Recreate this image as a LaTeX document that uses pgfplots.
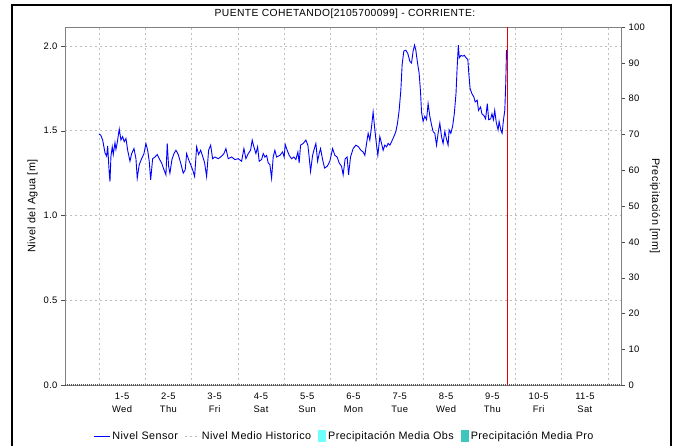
\documentclass[border=0pt]{standalone}
\usepackage{fontspec}
\setmainfont{Liberation Sans}[LetterSpace=4]
\usepackage{pgfplots}
\pgfplotsset{compat=1.18}
\definecolor{axgray}{RGB}{128,128,128}
\definecolor{gridgray}{RGB}{190,190,190}
\definecolor{obscol}{RGB}{110,255,255}
\definecolor{procol}{RGB}{64,196,190}
\definecolor{vred}{RGB}{230,0,0}
\pgfplotsset{
  boxleg/.style={legend image code/.code={\fill[##1] (0pt,-6pt) rectangle (8pt,6pt);}},
  dotleg/.style={legend image code/.code={\draw[##1] (0pt,0pt) -- (14pt,0pt);}},
  lineleg/.style={legend image code/.code={\draw[##1] (0pt,0pt) -- (16pt,0pt);}},
}
\begin{document}
\begin{tikzpicture}[x=1pt,y=1pt]
\useasboundingbox (0,0) rectangle (683,445);
\fill[white] (0,0) rectangle (683,445);
\draw[line width=2pt] (12,-20) -- (12,440) -- (671,440) -- (671,-20);
\node[font=\fontsize{10.3}{12}\selectfont] at (345,431) {PUENTE COHETANDO[2105700099] - CORRIENTE:};
\node[rotate=90,font=\fontsize{10.8}{12}\selectfont] at (32.5,239) {Nivel del Agua [m]};
\node[rotate=-90,font=\fontsize{10.8}{12}\selectfont] at (655,239) {Precipitación [mm]};
\begin{axis}[
  at={(65pt,60pt)}, anchor=south west,
  width=556pt, height=358pt, scale only axis,
  xmin=-0.734, xmax=11.28, ymin=0, ymax=2.112,
  axis line style={axgray},
  xtick={0.5,1.5,...,10.5},
  xticklabels={{1-5\\Wed},{2-5\\Thu},{3-5\\Fri},{4-5\\Sat},{5-5\\Sun},{6-5\\Mon},{7-5\\Tue},{8-5\\Wed},{9-5\\Thu},{10-5\\Fri},{11-5\\Sat}},
  xticklabel style={align=center, font=\fontsize{9.4}{13}\selectfont},
  minor xtick={0,1,...,11},
  xmajorgrids=false, xminorgrids=true,
  major x tick style={draw=none}, minor x tick style={draw=none},
  ytick={0,0.5,1,1.5,2},
  yticklabels={0.0,0.5,1.0,1.5,2.0},
  yticklabel style={font=\fontsize{9.4}{11}\selectfont},
  ymajorgrids=true,
  ytick pos=left,
  tick align=outside, major tick length=4pt,
  major y tick style={axgray!60!black},
  grid style={gridgray, dash pattern=on 2pt off 3pt, line width=0.6pt},
  minor grid style={gridgray, dash pattern=on 2pt off 3pt, line width=0.6pt},
  legend columns=4,
  legend cell align=left,
  legend style={draw=none, fill=none, at={(0.5027,-0.1425)}, anchor=center,
    font=\fontsize{10.8}{12}\selectfont, inner sep=0pt,
    /tikz/every even column/.append style={column sep=5pt}},
]
\addplot[lineleg, blue, line width=0.9pt] coordinates {
(0.00,1.48)(0.037,1.475)(0.080,1.445)(0.130,1.37)(0.166,1.35)(0.188,1.41)(0.222,1.25)(0.238,1.20)(0.259,1.35)(0.287,1.405)(0.309,1.36)(0.346,1.43)(0.367,1.39)(0.395,1.43)(0.438,1.51)(0.475,1.445)(0.512,1.465)(0.546,1.435)(0.583,1.455)(0.620,1.385)(0.670,1.32)(0.706,1.365)(0.756,1.395)(0.799,1.335)(0.827,1.22)(0.870,1.30)(0.922,1.335)(0.972,1.365)(1.015,1.425)(1.052,1.385)(1.086,1.32)(1.117,1.21)(1.160,1.335)(1.210,1.345)(1.259,1.36)(1.302,1.335)(1.354,1.31)(1.404,1.27)(1.447,1.24)(1.475,1.425)(1.505,1.29)(1.533,1.25)(1.577,1.33)(1.620,1.365)(1.663,1.385)(1.713,1.36)(1.765,1.31)(1.821,1.25)(1.864,1.27)(1.894,1.365)(1.937,1.33)(1.981,1.30)(2.024,1.27)(2.067,1.23)(2.110,1.405)(2.153,1.36)(2.197,1.385)(2.240,1.35)(2.283,1.31)(2.326,1.23)(2.369,1.385)(2.413,1.415)(2.456,1.335)(2.505,1.345)(2.577,1.335)(2.650,1.35)(2.700,1.365)(2.743,1.395)(2.793,1.335)(2.866,1.345)(2.937,1.33)(3.009,1.335)(3.082,1.32)(3.132,1.395)(3.175,1.335)(3.225,1.365)(3.276,1.385)(3.311,1.445)(3.348,1.405)(3.391,1.365)(3.428,1.405)(3.462,1.32)
(3.514,1.33)(3.549,1.365)(3.585,1.345)(3.622,1.355)(3.657,1.31)(3.693,1.30)(3.730,1.22)(3.765,1.345)(3.801,1.385)(3.838,1.345)(3.909,1.355)(3.968,1.375)(4.002,1.345)(4.024,1.42)(4.067,1.385)(4.110,1.355)(4.162,1.335)(4.212,1.345)(4.255,1.33)(4.298,1.375)(4.326,1.31)(4.356,1.415)(4.413,1.425)(4.471,1.445)(4.514,1.415)(4.542,1.345)(4.572,1.26)(4.616,1.355)(4.644,1.385)(4.687,1.425)(4.724,1.32)(4.758,1.365)(4.788,1.395)(4.832,1.33)(4.875,1.28)(4.931,1.29)(4.989,1.32)(5.048,1.395)(5.097,1.355)(5.147,1.345)(5.190,1.31)(5.242,1.29)(5.276,1.24)(5.320,1.335)(5.363,1.345)(5.393,1.24)(5.436,1.345)(5.492,1.395)(5.551,1.415)(5.609,1.405)(5.659,1.385)(5.708,1.375)(5.745,1.355)(5.782,1.425)(5.816,1.485)(5.853,1.445)(5.890,1.525)(5.924,1.61)(5.961,1.505)(5.998,1.415)(6.026,1.355)(6.069,1.465)(6.106,1.425)(6.140,1.385)(6.177,1.415)(6.214,1.405)(6.248,1.425)(6.285,1.415)(6.322,1.435)(6.371,1.465)(6.415,1.495)(6.451,1.545)(6.486,1.62)(6.523,1.74)(6.551,1.89)(6.587,1.97)(6.631,1.975)(6.674,1.955)(6.717,1.91)(6.754,1.90)(6.788,1.97)(6.819,2.005)(6.847,1.975)(6.883,1.90)(6.918,1.84)(6.948,1.73)(6.970,1.61)(7.004,1.555)(7.041,1.585)(7.078,1.565)(7.112,1.66)(7.149,1.585)(7.186,1.535)(7.220,1.495)(7.257,1.485)(7.294,1.415)(7.328,1.485)(7.365,1.545)(7.402,1.465)(7.436,1.425)(7.473,1.495)(7.510,1.45)(7.544,1.415)(7.566,1.505)(7.603,1.485)(7.641,1.525)(7.678,1.60)(7.715,1.72)(7.737,1.86)(7.765,2.005)(7.786,1.93)(7.823,1.945)(7.860,1.94)(7.896,1.945)(7.933,1.93)(7.970,1.92)(7.991,1.84)(8.019,1.75)(8.056,1.72)(8.099,1.70)(8.130,1.67)(8.173,1.68)(8.201,1.62)(8.246,1.64)(8.274,1.60)(8.317,1.59)(8.354,1.57)(8.391,1.66)(8.421,1.565)(8.464,1.57)(8.492,1.60)(8.523,1.565)(8.551,1.62)(8.587,1.545)(8.624,1.505)(8.646,1.555)(8.683,1.505)(8.711,1.485)(8.741,1.565)(8.769,1.62)(8.790,1.78)(8.806,1.975)
};
\addlegendentry{Nivel Sensor}
\addlegendimage{dotleg, gridgray, line width=1pt, dash pattern=on 2pt off 3pt}
\addlegendentry{Nivel Medio Historico}
\addlegendimage{boxleg, draw=none, fill=obscol}
\addlegendentry{Precipitación Media Obs}
\addlegendimage{boxleg, draw=none, fill=procol}
\addlegendentry{Precipitación Media Pro}
\addplot[black!65, line width=1.2pt, dash pattern=on 1pt off 1pt, forget plot] coordinates {(-0.734,0) (11.28,0)};
\addplot[vred, line width=1pt, forget plot] coordinates {(8.82,0) (8.82,2.112)};
\end{axis}
\begin{axis}[
  at={(65pt,60pt)}, anchor=south west,
  width=556pt, height=358pt, scale only axis,
  xmin=-0.734, xmax=11.28, ymin=0, ymax=100,
  axis y line*=right, axis x line=none,
  axis line style={axgray},
  ytick={0,10,...,100},
  yticklabels={0,10,20,30,40,50,60,70,80,90,100},
  yticklabel style={font=\fontsize{9.4}{11}\selectfont},
  tick align=outside, major tick length=4pt,
  major y tick style={axgray!60!black},
]
\addplot[draw=none, forget plot] coordinates {(0,0)};
\end{axis}
\end{tikzpicture}
\end{document}
